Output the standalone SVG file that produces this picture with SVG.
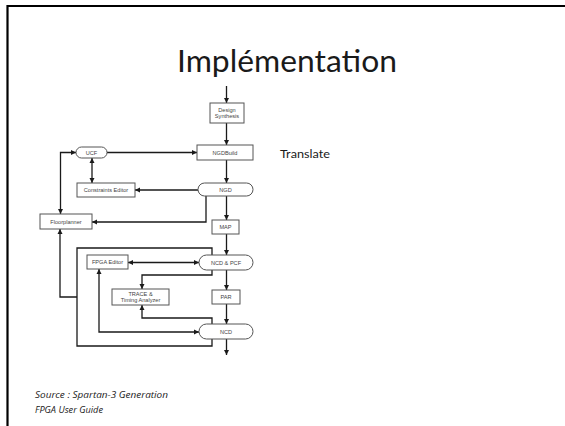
<svg xmlns="http://www.w3.org/2000/svg" width="565" height="426" viewBox="0 0 565 426">
<style>
.box{fill:#fff;stroke:#555;stroke-width:1}
.lbl{font-family:"Liberation Sans",Arial,sans-serif;font-size:5.6px;fill:#444;text-anchor:middle}
.c{fill:none;stroke:#1a1a1a;stroke-width:1.3}
</style>
<defs>
<marker id="ah" markerUnits="userSpaceOnUse" markerWidth="6" markerHeight="6" refX="5" refY="3" orient="auto-start-reverse">
<path d="M0,0.5 L5,3 L0,5.5 Z" fill="#1a1a1a"/>
</marker>
</defs>
<rect width="565" height="426" fill="#fff"/>
<g id="frame">
<path d="M7.5,426 V6 H565" fill="none" stroke="#000" stroke-width="2.2"/>
</g>
<text id="title" x="287" y="72" font-family="Lato,'Open Sans',sans-serif" font-size="31" fill="#1a1a1a" text-anchor="middle" textLength="220" lengthAdjust="spacingAndGlyphs">Implémentation</text>
<text id="translate" x="280" y="158" font-family="Lato,'Open Sans',sans-serif" font-size="11" fill="#1a1a1a" textLength="50" lengthAdjust="spacingAndGlyphs">Translate</text>
<g id="source" font-family="'Open Sans',Lato,sans-serif" font-style="italic" font-size="9" fill="#1a1a1a">
<text x="35" y="398" textLength="133" lengthAdjust="spacingAndGlyphs">Source : Spartan-3 Generation</text>
<text x="35" y="413" textLength="68" lengthAdjust="spacingAndGlyphs">FPGA User Guide</text>
</g>
<g id="connectors">
<path class="c" d="M226.5,86 V103" marker-end="url(#ah)"/>
<path class="c" d="M226.5,123 V145" marker-end="url(#ah)"/>
<path class="c" d="M107,152.5 H197" marker-end="url(#ah)"/>
<path class="c" d="M60.5,214 V152.5 H76" marker-start="url(#ah)" marker-end="url(#ah)"/>
<path class="c" d="M92,158 V183" marker-start="url(#ah)" marker-end="url(#ah)"/>
<path class="c" d="M198,190 H135" marker-end="url(#ah)"/>
<path class="c" d="M226.5,160 V183" marker-end="url(#ah)"/>
<path class="c" d="M206,196 V222 H92" marker-end="url(#ah)"/>
<path class="c" d="M226.5,196 V220" marker-end="url(#ah)"/>
<path class="c" d="M226.5,234 V255" marker-end="url(#ah)"/>
<path class="c" d="M128,262.5 H199" marker-start="url(#ah)" marker-end="url(#ah)"/>
<path class="c" d="M212,255 V248 H77 V346 H212 V339"/>
<path class="c" d="M77,297 H60 V229" marker-end="url(#ah)"/>
<path class="c" d="M212,270 V275 H142 V289" marker-end="url(#ah)"/>
<path class="c" d="M226.5,270 V290" marker-end="url(#ah)"/>
<path class="c" d="M226.5,304 V324" marker-end="url(#ah)"/>
<path class="c" d="M212,324 V318 H142 V305" marker-end="url(#ah)"/>
<path class="c" d="M199,332 H99 V269" marker-start="url(#ah)" marker-end="url(#ah)"/>
<path class="c" d="M226.5,339 V355" marker-end="url(#ah)"/>
</g>
<g id="design-synthesis">
<rect class="box" x="210" y="103" width="34" height="20"/>
<text class="lbl" x="227" y="111.5">Design</text>
<text class="lbl" x="227" y="117.5">Synthesis</text>
</g>
<g id="ngdbuild">
<rect class="box" x="197" y="145" width="56" height="15"/>
<text class="lbl" x="225" y="154.5">NGDBuild</text>
</g>
<g id="ucf">
<rect class="box" x="76" y="147" width="31" height="11" rx="5.5"/>
<text class="lbl" x="91.5" y="154.5">UCF</text>
</g>
<g id="constraints-editor">
<rect class="box" x="77" y="183" width="58" height="14"/>
<text class="lbl" x="106" y="192">Constraints Editor</text>
</g>
<g id="ngd">
<rect class="box" x="198" y="183" width="55" height="13" rx="6.5"/>
<text class="lbl" x="225.5" y="191.5">NGD</text>
</g>
<g id="floorplanner">
<rect class="box" x="40" y="214" width="52" height="15"/>
<text class="lbl" x="66" y="223.5">Floorplanner</text>
</g>
<g id="map">
<rect class="box" x="212" y="220" width="27" height="14"/>
<text class="lbl" x="225.5" y="229">MAP</text>
</g>
<g id="ncd-pcf">
<rect class="box" x="199" y="255" width="54" height="15" rx="7.5"/>
<text class="lbl" x="226" y="264.5">NCD &amp; PCF</text>
</g>
<g id="fpga-editor">
<rect class="box" x="87" y="255" width="41" height="14"/>
<text class="lbl" x="107.5" y="264">FPGA Editor</text>
</g>
<g id="trace">
<rect class="box" x="112" y="289" width="57" height="16"/>
<text class="lbl" x="140.5" y="295.5">TRACE &amp;</text>
<text class="lbl" x="140.5" y="302">Timing Analyzer</text>
</g>
<g id="par">
<rect class="box" x="212" y="290" width="28" height="14"/>
<text class="lbl" x="226" y="299">PAR</text>
</g>
<g id="ncd">
<rect class="box" x="199" y="324" width="54" height="15" rx="7.5"/>
<text class="lbl" x="226" y="333.5">NCD</text>
</g>
</svg>
